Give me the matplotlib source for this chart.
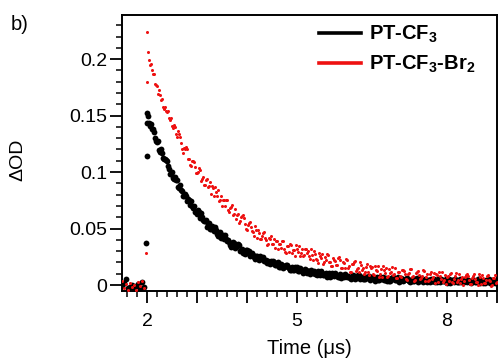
import numpy as np
import matplotlib
matplotlib.use("Agg")
import matplotlib.pyplot as plt
from matplotlib.ticker import MultipleLocator, FixedLocator, FixedFormatter

plt.rcParams['font.family'] = ['Liberation Sans', 'DejaVu Sans']
plt.rcParams['mathtext.fontset'] = 'custom'
plt.rcParams['mathtext.bf'] = 'Liberation Sans:bold'
plt.rcParams['mathtext.rm'] = 'Liberation Sans'

# time base (us): 1.50 ... 8.98 in 0.04 steps, plus a second read-out 0.02 us later
time = np.round(1.50 + 0.04 * np.arange(188), 2)
time_b = np.round(2.04 + 0.04 * np.arange(175), 2)

# PT-CF3 (black)
pt_cf3 = [
    -0.001, 0.002, 0.005, -0.003, -0.002, 0.000, -0.004, -0.001, 0.001, -0.003, 0.003, -0.002, 0.037,
    0.1500, 0.1405, 0.1378, 0.1352, 0.1277, 0.1274, 0.1182, 0.1172, 0.1114, 0.1106,
    0.1050, 0.0985, 0.1002, 0.0939, 0.0928, 0.0867, 0.0888, 0.0830, 0.0792, 0.0786,
    0.0761, 0.0706, 0.0702, 0.0699, 0.0647, 0.0666, 0.0595, 0.0605, 0.0566, 0.0577,
    0.0539, 0.0492, 0.0525, 0.0479, 0.0483, 0.0438, 0.0473, 0.0429, 0.0406, 0.0412,
    0.0400, 0.0357, 0.0365, 0.0374, 0.0333, 0.0362, 0.0302, 0.0322, 0.0292, 0.0313,
    0.0284, 0.0254, 0.0281, 0.0252, 0.0258, 0.0229, 0.0257, 0.0229, 0.0215, 0.0223,
    0.0216, 0.0189, 0.0197, 0.0206, 0.0179, 0.0202, 0.0162, 0.0178, 0.0159, 0.0175,
    0.0157, 0.0131, 0.0162, 0.0137, 0.0147, 0.0122, 0.0154, 0.0129, 0.0119, 0.0130,
    0.0126, 0.0102, 0.0113, 0.0124, 0.0101, 0.0126, 0.0089, 0.0107, 0.0091, 0.0109,
    0.0093, 0.0070, 0.0103, 0.0080, 0.0092, 0.0069, 0.0102, 0.0079, 0.0071, 0.0083,
    0.0081, 0.0059, 0.0071, 0.0084, 0.0062, 0.0088, 0.0052, 0.0072, 0.0058, 0.0075,
    0.0062, 0.0043, 0.0072, 0.0053, 0.0064, 0.0045, 0.0074, 0.0055, 0.0048, 0.0059,
    0.0058, 0.0040, 0.0051, 0.0062, 0.0043, 0.0067, 0.0036, 0.0054, 0.0041, 0.0058,
    0.0046, 0.0027, 0.0057, 0.0038, 0.0050, 0.0031, 0.0061, 0.0042, 0.0036, 0.0047,
    0.0047, 0.0029, 0.0040, 0.0052, 0.0034, 0.0057, 0.0027, 0.0045, 0.0032, 0.0050,
    0.0038, 0.0020, 0.0049, 0.0031, 0.0043, 0.0025, 0.0054, 0.0036, 0.0030, 0.0042,
    0.0041, 0.0023, 0.0035, 0.0047, 0.0029, 0.0052, 0.0022, 0.0040, 0.0028, 0.0046,
    0.0034, 0.0015, 0.0045, 0.0027, 0.0039,
]
pt_cf3_b = [
    0.1430, 0.1422, 0.1385, 0.1300, 0.1266, 0.1193, 0.1202, 0.1123, 0.1115, 0.1098,
    0.1023, 0.0979, 0.0946, 0.0954, 0.0933, 0.0863, 0.0844, 0.0786, 0.0809, 0.0744,
    0.0749, 0.0744, 0.0681, 0.0648, 0.0627, 0.0646, 0.0635, 0.0576, 0.0567, 0.0518,
    0.0551, 0.0494, 0.0507, 0.0511, 0.0456, 0.0431, 0.0416, 0.0443, 0.0439, 0.0386,
    0.0384, 0.0341, 0.0380, 0.0329, 0.0348, 0.0357, 0.0307, 0.0287, 0.0278, 0.0309,
    0.0301, 0.0264, 0.0263, 0.0234, 0.0261, 0.0226, 0.0240, 0.0247, 0.0212, 0.0199,
    0.0192, 0.0214, 0.0216, 0.0182, 0.0184, 0.0158, 0.0188, 0.0155, 0.0171, 0.0180,
    0.0148, 0.0136, 0.0132, 0.0156, 0.0159, 0.0128, 0.0131, 0.0107, 0.0139, 0.0107,
    0.0125, 0.0136, 0.0105, 0.0095, 0.0093, 0.0118, 0.0123, 0.0092, 0.0097, 0.0073,
    0.0106, 0.0076, 0.0095, 0.0107, 0.0077, 0.0068, 0.0066, 0.0093, 0.0098, 0.0068,
    0.0074, 0.0051, 0.0085, 0.0056, 0.0075, 0.0088, 0.0059, 0.0051, 0.0051, 0.0074,
    0.0079, 0.0054, 0.0059, 0.0040, 0.0069, 0.0044, 0.0061, 0.0072, 0.0047, 0.0040,
    0.0040, 0.0063, 0.0068, 0.0043, 0.0049, 0.0030, 0.0060, 0.0035, 0.0052, 0.0064,
    0.0039, 0.0033, 0.0032, 0.0056, 0.0061, 0.0037, 0.0042, 0.0024, 0.0053, 0.0029,
    0.0047, 0.0058, 0.0034, 0.0028, 0.0027, 0.0051, 0.0057, 0.0032, 0.0038, 0.0020,
    0.0050, 0.0025, 0.0043, 0.0055, 0.0031, 0.0024, 0.0024, 0.0048, 0.0054, 0.0029,
    0.0035, 0.0017, 0.0047, 0.0023, 0.0040, 0.0052, 0.0028, 0.0022, 0.0022, 0.0046,
    0.0051, 0.0027, 0.0033, 0.0015, 0.0045,
]

# PT-CF3-Br2 (red)
pt_cf3_br2 = [
    0.004, -0.003, 0.001, -0.004, 0.002, -0.002, 0.000, -0.004, 0.003, -0.001, 0.004, -0.003, 0.028,
    0.2060, 0.1946, 0.1906, 0.1870, 0.1768, 0.1690, 0.1682, 0.1644, 0.1562, 0.1540,
    0.1540, 0.1464, 0.1406, 0.1420, 0.1340, 0.1360, 0.1310, 0.1200, 0.1210, 0.1220,
    0.1120, 0.1060, 0.1100, 0.1090, 0.0990, 0.1000, 0.1020, 0.0940, 0.0890, 0.0930,
    0.0870, 0.0910, 0.0880, 0.0790, 0.0820, 0.0840, 0.0750, 0.0700, 0.0750, 0.0750,
    0.0665, 0.0680, 0.0710, 0.0630, 0.0585, 0.0630, 0.0570, 0.0615, 0.0590, 0.0500,
    0.0535, 0.0560, 0.0475, 0.0430, 0.0485, 0.0490, 0.0410, 0.0430, 0.0470, 0.0400,
    0.0360, 0.0410, 0.0360, 0.0410, 0.0390, 0.0315, 0.0360, 0.0390, 0.0315, 0.0280,
    0.0345, 0.0360, 0.0285, 0.0310, 0.0355, 0.0290, 0.0260, 0.0315, 0.0270, 0.0320,
    0.0305, 0.0230, 0.0270, 0.0305, 0.0230, 0.0195, 0.0260, 0.0275, 0.0200, 0.0225,
    0.0270, 0.0205, 0.0170, 0.0225, 0.0180, 0.0238, 0.0225, 0.0150, 0.0195, 0.0230,
    0.0155, 0.0120, 0.0186, 0.0202, 0.0128, 0.0154, 0.0200, 0.0136, 0.0102, 0.0158,
    0.0114, 0.0170, 0.0158, 0.0086, 0.0134, 0.0172, 0.0100, 0.0068, 0.0136, 0.0154,
    0.0082, 0.0110, 0.0158, 0.0096, 0.0064, 0.0120, 0.0078, 0.0136, 0.0125, 0.0053,
    0.0101, 0.0140, 0.0068, 0.0036, 0.0105, 0.0123, 0.0052, 0.0080, 0.0128, 0.0067,
    0.0035, 0.0094, 0.0052, 0.0110, 0.0099, 0.0027, 0.0076, 0.0114, 0.0043, 0.0011,
    0.0080, 0.0099, 0.0028, 0.0058, 0.0107, 0.0046, 0.0015, 0.0074, 0.0033, 0.0093,
    0.0082, 0.0011, 0.0060, 0.0099, 0.0028, -0.0003, 0.0067, 0.0086, 0.0015, 0.0044,
    0.0093, 0.0032, 0.0002, 0.0061, 0.0020,
]
pt_cf3_br2_b = [
    0.1992, 0.1959, 0.1870, 0.1780, 0.1762, 0.1725, 0.1639, 0.1576, 0.1578, 0.1531,
    0.1478, 0.1480, 0.1391, 0.1400, 0.1310, 0.1340, 0.1260, 0.1170, 0.1205, 0.1205,
    0.1115, 0.1055, 0.1095, 0.1045, 0.0990, 0.1035, 0.0920, 0.0960, 0.0890, 0.0940,
    0.0880, 0.0810, 0.0860, 0.0870, 0.0790, 0.0740, 0.0790, 0.0750, 0.0700, 0.0750,
    0.0650, 0.0690, 0.0620, 0.0670, 0.0620, 0.0550, 0.0600, 0.0620, 0.0540, 0.0490,
    0.0550, 0.0510, 0.0470, 0.0520, 0.0420, 0.0465, 0.0405, 0.0465, 0.0415, 0.0355,
    0.0415, 0.0435, 0.0365, 0.0325, 0.0388, 0.0363, 0.0325, 0.0388, 0.0293, 0.0348,
    0.0293, 0.0358, 0.0313, 0.0258, 0.0323, 0.0350, 0.0288, 0.0253, 0.0315, 0.0288,
    0.0253, 0.0315, 0.0218, 0.0273, 0.0218, 0.0283, 0.0238, 0.0183, 0.0248, 0.0273,
    0.0208, 0.0173, 0.0238, 0.0213, 0.0179, 0.0247, 0.0153, 0.0208, 0.0153, 0.0218,
    0.0173, 0.0118, 0.0184, 0.0210, 0.0146, 0.0112, 0.0178, 0.0154, 0.0120, 0.0186,
    0.0092, 0.0149, 0.0097, 0.0165, 0.0123, 0.0071, 0.0139, 0.0167, 0.0105, 0.0073,
    0.0141, 0.0119, 0.0087, 0.0155, 0.0062, 0.0119, 0.0067, 0.0135, 0.0094, 0.0042,
    0.0110, 0.0139, 0.0077, 0.0045, 0.0114, 0.0092, 0.0061, 0.0129, 0.0037, 0.0096,
    0.0044, 0.0113, 0.0071, 0.0019, 0.0088, 0.0116, 0.0055, 0.0023, 0.0092, 0.0070,
    0.0039, 0.0108, 0.0018, 0.0077, 0.0026, 0.0095, 0.0054, 0.0003, 0.0073, 0.0102,
    0.0041, 0.0010, 0.0079, 0.0058, 0.0028, 0.0097, 0.0006, 0.0065, 0.0014, 0.0083,
    0.0042, -0.0008, 0.0061, 0.0090, 0.0029,
]

# points on the rising edge
spike_t_black = [2.00, 2.00, 2.00]
spike_black = [0.114, 0.143, 0.152]
spike_t_red = [2.00, 2.00]
spike_red = [0.180, 0.224]

RED = '#ee1111'

fig = plt.figure(figsize=(4.98, 3.58), dpi=100)
ax = fig.add_axes([0.245, 0.187, 0.752, 0.771])

for tx, yv in [(time, pt_cf3), (time_b, pt_cf3_b), (spike_t_black, spike_black)]:
    ax.plot(tx, yv, 'o', color='black', ms=4.2, mew=0, zorder=2)
for tx, yv in [(time, pt_cf3_br2), (time_b, pt_cf3_br2_b), (spike_t_red, spike_red)]:
    ax.plot(tx, yv, 'o', color=RED, ms=2.2, mew=0, zorder=3)

# legend handles
ax.plot([], [], color='black', lw=2.6, label=r'PT-CF$_\mathbf{3}$')
ax.plot([], [], color=RED, lw=2.6, label=r'PT-CF$_\mathbf{3}$-Br$_\mathbf{2}$')
handles, labels = ax.get_legend_handles_labels()
ax.legend(handles, labels, loc='upper left', frameon=False,
          prop={'weight': 'bold', 'size': 14.5}, handlelength=2.1,
          handletextpad=0.4, labelspacing=0.42, borderpad=0,
          borderaxespad=0, bbox_to_anchor=(0.526, 0.968))

ax.set_xlim(1.5, 9.0)
ax.set_ylim(-0.0053, 0.239)

ax.xaxis.set_major_locator(FixedLocator([2, 3, 4, 5, 6, 7, 8, 9]))
ax.xaxis.set_major_formatter(FixedFormatter(['2', '', '', '5', '', '', '8', '']))
ax.xaxis.set_minor_locator(MultipleLocator(0.2))
ax.yaxis.set_major_locator(FixedLocator([0, 0.05, 0.1, 0.15, 0.2]))
ax.yaxis.set_major_formatter(FixedFormatter(['0', '0.05', '0.1', '0.15', '0.2']))
ax.yaxis.set_minor_locator(MultipleLocator(0.01))

ax.tick_params(which='major', direction='out', length=8.5, width=1.3, labelsize=14)
ax.tick_params(axis='x', which='major', pad=7)
ax.tick_params(axis='y', which='major', pad=2)
ax.tick_params(which='minor', direction='out', length=4.5, width=1.1)
for s in ax.spines.values():
    s.set_linewidth(1.4)

ax.set_xlabel('Time (μs)', fontsize=14.5)
ax.xaxis.set_label_coords(0.5, -0.175)
ax.set_ylabel('ΔOD', fontsize=14)
ax.yaxis.set_label_coords(-0.255, 0.475)
fig.text(0.022, 0.917, 'b)', fontsize=14.5)

fig.savefig('out.png', dpi=100)
